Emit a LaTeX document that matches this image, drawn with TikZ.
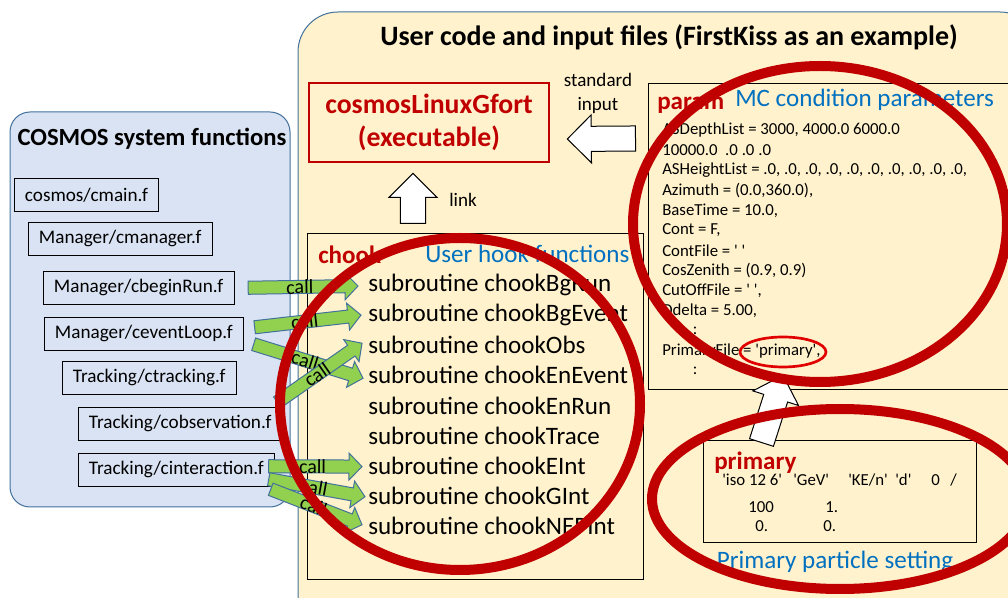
\documentclass[tikz,border=0pt]{standalone}
\usepackage{fontspec}
\setmainfont{Carlito}[Ligatures=TeXOff]
\usetikzlibrary{calc,fit,positioning,shapes.geometric}

\definecolor{paleyellow}{HTML}{FFF2CC}
\definecolor{paleblue}{HTML}{DAE3F3}
\definecolor{edgeblue}{HTML}{41719C}
\definecolor{darkred}{HTML}{C00000}
\definecolor{ringred}{HTML}{E00000}
\definecolor{textblue}{HTML}{0070C0}
\definecolor{callgreen}{HTML}{92D050}

% block arrow: style, from, to, half shaft, half head, head length
\newcommand\blockarrow[6]{%
  \coordinate (ba-s) at #2;
  \coordinate (ba-t) at #3;
  \coordinate (ba-h) at ($(ba-t)!#6!(ba-s)$);
  \draw[#1] ($(ba-s)!#4!90:(ba-t)$) -- ($(ba-h)!#4!90:(ba-t)$)
    -- ($(ba-h)!#5!90:(ba-t)$) -- (ba-t) -- ($(ba-h)!#5!-90:(ba-t)$)
    -- ($(ba-h)!#4!-90:(ba-t)$) -- ($(ba-s)!#4!-90:(ba-t)$) -- cycle;}
\newcommand\callarrow[2]{%
  \blockarrow{callarrow}{#1}{#2}{4.9pt}{10.1pt}{9.75pt}
  \path (ba-s) -- node[calltext, pos=.47] {call} (ba-t);}
\newcommand\bigarrow[2]{\blockarrow{blankarrow}{#1}{#2}{9.4pt}{18pt}{18pt}}

\tikzset{
  userpanel/.style={draw=edgeblue, fill=paleyellow, line width=0.75pt, rounded corners=30pt, inner sep=0pt},
  syspanel/.style={draw=edgeblue, fill=paleblue, line width=0.75pt, rounded corners=15pt, inner sep=0pt},
  sysfile/.style={draw, fill=paleblue, anchor=north west, minimum height=24.75pt, inner xsep=8pt, font=\fontsize{14.4}{17}\selectfont},
  filebox/.style={draw, line width=0.75pt, inner sep=0pt},
  exebox/.style={draw=darkred, line width=2pt, text=darkred, align=center, font=\fontsize{20.8}{24.75}\selectfont\bfseries},
  hookline/.style={anchor=west, inner sep=0pt, font=\fontsize{18.8}{22}\selectfont},
  parline/.style={anchor=west, inner sep=0pt, font=\fontsize{12.6}{15}\selectfont},
  boxtitle/.style={anchor=west, inner sep=0pt, text=darkred, font=\fontsize{18.8}{22}\selectfont\bfseries},
  boxnote/.style={anchor=west, inner sep=0pt, text=textblue, font=\fontsize{18.8}{22}\selectfont},
  smalltext/.style={font=\fontsize{14.3}{18}\selectfont, inner sep=0pt},
  callarrow/.style={fill=callgreen, draw=edgeblue, line width=0.75pt},
  blankarrow/.style={fill=white, draw=black, line width=0.75pt},
  calltext/.style={font=\fontsize{15}{18}\selectfont, inner sep=0pt, sloped},
  ring/.style={draw=darkred, line width=7.5pt},
}

\begin{document}
\begin{tikzpicture}[x=0.75pt,y=-0.75pt]
\useasboundingbox (0,0) rectangle (1008,598);
\clip (0,0) rectangle (1008,598);

% panels
\node[userpanel, fit={(298,12) (1040,640)}] (user) {};
\node[syspanel, fit={(10,112) (290,507)}] (sys) {};
\node[font=\fontsize{21}{25}\selectfont\bfseries] (title) at (669,37) {User code and input files (FirstKiss as an example)};
\node[font=\fontsize{18.5}{22}\selectfont\bfseries] (systitle) at (152,139) {COSMOS system functions};

% COSMOS system files
\node[sysfile] (cmain) at (14,178) {cosmos/cmain.f};
\node[sysfile] (manager) at (28,222) {Manager/cmanager.f};
\node[sysfile] (beginrun) at (43,271) {Manager/cbeginRun.f};
\node[sysfile] (eventloop) at (44,317) {Manager/ceventLoop.f};
\node[sysfile] (tracking) at (62,361) {Tracking/ctracking.f};
\node[sysfile] (observation) at (78,407) {Tracking/cobservation.f};
\node[sysfile] (interaction) at (78,453) {Tracking/cinteraction.f};

% executable
\node[exebox, minimum width=180pt, minimum height=59.25pt] (exe) at (429,122.5) {cosmosLinuxGfort\\(executable)};
\node[smalltext, align=center] (stdin) at (598,93) {standard\\input};
\node[smalltext] (link) at (463,200) {link};

% chook
\node[filebox, fit={(307,234) (643,580)}] (chook) {};
\node[boxtitle] (chooktitle) at (318,255) {chook};
\node[boxnote] (chooknote) at (425,254) {User hook functions};
\foreach \fn [count=\i] in {BgRun,BgEvent,Obs,EnEvent,EnRun,Trace,EInt,GInt,NEPInt}
  \node[hookline] (s\fn) at (368,285+30.1*\i-30.1) {subroutine chook\fn};

% param
\node[filebox, fit={(648,84) (1020,390)}] (param) {};
\node[boxtitle] (paramtitle) at (657,105) {param};
\node[boxnote] (paramnote) at (735,100) {MC condition parameters};
\foreach \txt [count=\i] in {{ASDepthList = 3000, 4000.0 6000.0},{10000.0\ \ .0 .0 .0},
    {ASHeightList = .0, .0, .0, .0, .0, .0, .0, .0, .0, .0,},{Azimuth = (0.0,360.0),},
    {BaseTime = 10.0,},{Cont = F,},{ContFile = ' '},{CosZenith = (0.9, 0.9)},
    {CutOffFile = ' ',},{Ddelta = 5.00,},{\hspace{23pt}:},{PrimaryFile = 'primary',},{\hspace{23pt}:}}
  \node[parline] (p\i) at (662,130+20.1*\i-20.1) {\txt};
\node[ellipse, draw=ringred, line width=2pt, minimum width=64.5pt, minimum height=22.5pt] (pfile) at (783,352) {};

% primary
\node[filebox, fit={(703,441) (976,543)}] (prim) {};
\node[boxtitle] (primtitle) at (714,463) {primary};
\node[parline] (q1) at (722,480) {'iso 12 6'};
\node[parline] (q2) at (793,480) {'GeV'};
\node[parline] (q3) at (848,480) {'KE/n'};
\node[parline] (q4) at (895,480) {'d'};
\node[parline] (q5) at (931,480) {0};
\node[parline] (q6) at (950,480) {/};
\node[parline] (q7) at (748,507) {100};
\node[parline] (q8) at (825,507) {1.};
\node[parline] (q9) at (755,526) {0.};
\node[parline] (q10) at (823,526) {0.};
\node[boxnote, anchor=center] (primnote) at (835,562) {Primary particle setting};

% white arrows
\bigarrow{($(param.north west)+(-12,55)$)}{($(exe.east)+(17,16.5)$)}
\bigarrow{($(chook.north)+(-62,-10)$)}{($(exe.south)+(-16,10)$)}
\bigarrow{($(prim.north west)+(59,2)$)}{($(pfile.south)+(0,7)$)}

% calls
\callarrow{($(beginrun.east)+(14,0)$)}{($(sBgRun.west)+(-10,1)$)}
\callarrow{($(eventloop.east)+(11,-6.5)$)}{($(sBgEvent.west)+(-7,0)$)}
\callarrow{($(eventloop.east)+(10,10.5)$)}{($(sEnEvent.west)+(-5,3)$)}
\callarrow{($(observation.east)+(-5,-21.5)$)}{($(sObs.west)+(-6,-2)$)}
\callarrow{($(interaction.east)+(-6,-3.5)$)}{($(sEInt.west)+(-6,1)$)}
\callarrow{($(interaction.east)+(-6,9.5)$)}{($(sGInt.west)+(-3,1)$)}
\callarrow{($(interaction.east)+(-4,19.5)$)}{($(sNEPInt.west)+(-6,-1)$)}

% rings
\draw[ring] (820,224) ellipse [x radius=187, y radius=158];
\draw[ring] (460,404) ellipse [x radius=180, y radius=166];
\draw[ring] (840,499) ellipse [x radius=188, y radius=90];
\end{tikzpicture}
\end{document}
